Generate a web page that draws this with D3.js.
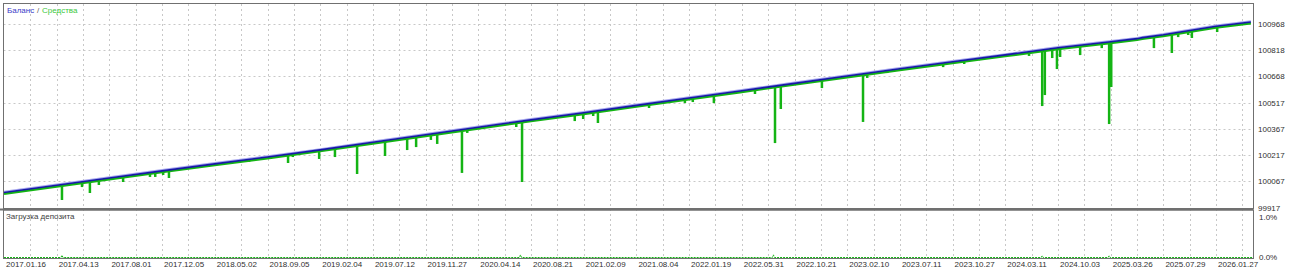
<!DOCTYPE html>
<html>
<head>
<meta charset="utf-8">
<script src="https://cdn.jsdelivr.net/npm/d3@7"></script>
<style>
  body { margin: 0; background: #fff; }
  svg text { font-family: "Liberation Sans", Arial, sans-serif; }
</style>
</head>
<body>
<div id="chart"></div>
<script>
// подписи оси X (по номеру сделки, каждые 10)
let dateLabels = ["2017.01.16", "2017.04.13", "2017.08.01", "2017.12.05", "2018.05.02", "2018.09.05",
    "2019.02.04", "2019.07.12", "2019.11.27", "2020.04.14", "2020.08.21", "2021.02.09",
    "2021.08.04", "2022.01.19", "2022.05.31", "2022.10.21", "2023.02.10", "2023.07.11",
    "2023.10.27", "2024.03.11", "2024.10.03", "2025.03.26", "2025.07.29", "2026.01.27"];
let yTicks = [99917, 100067, 100217, 100367, 100517, 100668, 100818, 100968];

// баланс
let balanceIdx = [0, 10, 20, 30, 40, 50, 60, 70, 80, 90, 100, 110, 120, 130, 140, 150, 160, 170, 180, 190, 200, 210, 215, 216, 220, 230, 236.6];
let balanceVal = [100003, 100044, 100086, 100127, 100167, 100206, 100247, 100291, 100334, 100377, 100419, 100460, 100502, 100544, 100586, 100628, 100670, 100712, 100752, 100791, 100832, 100866, 100884, 100890, 100906, 100955, 100979];

// провалы средств
let dipIdx = [11.0, 14.8, 16.3, 18.0, 22.6, 27.7, 28.7, 30.2, 31.3, 36.8, 46.5, 53.9, 54.8, 59.8, 62.8, 67.0,
    72.3, 76.5, 78.2, 81.0, 82.2, 86.9, 87.9, 97.2, 98.3, 108.3, 109.9, 111.8, 112.7, 122.4, 129.2, 130.7,
    134.7, 142.5, 146.3, 147.4, 155.2, 163.0, 163.8, 167.6, 178.2, 182.2, 194.5, 197.0, 197.5, 198.9, 199.8,
    200.4, 204.2, 208.3, 209.7, 210.1, 212.3, 218.2, 221.6, 222.8, 224.7, 225.4, 230.2];
let dipVal = [99960, 100034, 100000, 100046, 100063, 100092, 100092, 100103, 100086, 100143, 100178, 100172, 100206,
    100195, 100206, 100109, 100212, 100246, 100263, 100304, 100281, 100115, 100344, 100378, 100063, 100412, 100424,
    100441, 100401, 100487, 100515, 100521, 100515, 100567, 100286, 100481, 100601, 100407, 100659, 100687, 100721,
    100739, 100785, 100498, 100561, 100773, 100710, 100779, 100790, 100830, 100395, 100607, 100865, 100830, 100802,
    100893, 100905, 100888, 100922];

// загрузка депозита, %
let loadIdx = [11, 98, 146, 197, 209.7];
let loadVal = [0.05, 0.06, 0.06, 0.04, 0.04];

let width = 1290;
let height = 273;
let main = { top: 4, bottom: 208.5 };
let lower = { top: 210, bottom: 258.5 };
let left = 3.5, right = 1253.5;
let font = "'Liberation Sans', Arial, sans-serif";

function translate (x, y) {
    return `translate(${ x }, ${ y })`;
}

let svg = d3.select("#chart").append("svg")
    .attr("width", width)
    .attr("height", height);

let x = d3.scaleLinear().domain([0, 237]).range([4, 1253]);
let y = d3.scaleLinear().domain([99917, 100968]).range([207.5, 24]);
let yLoad = d3.scaleLinear().domain([0, 1]).range([257.5, 213.5]);

let gridColor = "#c8c8c8";

// вертикальная сетка через обе панели
let gridX = d3.range(5, 237, 5);
svg.append("g").selectAll("line").data(gridX).enter().append("line")
    .attr("x1", d => Math.round(x(d)) + 0.5)
    .attr("x2", d => Math.round(x(d)) + 0.5)
    .attr("y1", main.top)
    .attr("y2", lower.bottom)
    .attr("stroke", gridColor)
    .attr("stroke-dasharray", "2,3");

// горизонтальная сетка
svg.append("g").selectAll("line").data(yTicks.slice(1)).enter().append("line")
    .attr("x1", left)
    .attr("x2", right)
    .attr("y1", d => Math.round(y(d)) + 0.5)
    .attr("y2", d => Math.round(y(d)) + 0.5)
    .attr("stroke", gridColor)
    .attr("stroke-dasharray", "2,3");

// средства: базовая линия чуть ниже баланса
let equityLine = d3.line()
    .x((d, i) => x(balanceIdx[i]))
    .y(d => y(d - 7));
svg.append("path")
    .attr("d", equityLine(balanceVal))
    .attr("fill", "none")
    .attr("stroke", "#14b414")
    .attr("stroke-width", 2.5);

let balAt = d3.scaleLinear().domain(balanceIdx).range(balanceVal);
svg.append("g").selectAll("line").data(dipIdx).enter().append("line")
    .attr("x1", d => x(d))
    .attr("x2", d => x(d))
    .attr("y1", d => y(balAt(d)))
    .attr("y2", (d, i) => y(dipVal[i]))
    .attr("stroke", "#14b414")
    .attr("stroke-width", 2.5);

// баланс
let balanceLine = d3.line()
    .x((d, i) => x(balanceIdx[i]))
    .y(d => y(d));
svg.append("path")
    .attr("d", balanceLine(balanceVal))
    .attr("transform", translate(0, -1))
    .attr("fill", "none")
    .attr("stroke", "#a8a8f0")
    .attr("stroke-width", 1.5);
svg.append("path")
    .attr("d", balanceLine(balanceVal))
    .attr("fill", "none")
    .attr("stroke", "#1818a8")
    .attr("stroke-width", 1.6);

// загрузка депозита
let loadPts = [[0, 0]];
loadIdx.forEach((d, i) => { loadPts.push([d - 0.2, 0], [d, loadVal[i]], [d + 0.2, 0]); });
loadPts.push([237, 0]);
svg.append("path")
    .attr("d", d3.line().x(d => x(d[0])).y(d => yLoad(d[1]))(loadPts))
    .attr("fill", "none")
    .attr("stroke", "#14b414")
    .attr("stroke-width", 1)
    .attr("stroke-dasharray", "2,1");

// рамки панелей
svg.append("rect")
    .attr("x", left).attr("y", main.top - 0.5)
    .attr("width", right - left).attr("height", main.bottom - main.top + 0.5)
    .attr("fill", "none").attr("stroke", "#707070");
svg.append("line")
    .attr("x1", 0).attr("x2", right)
    .attr("y1", 209.5).attr("y2", 209.5)
    .attr("stroke", "#707070").attr("stroke-width", 2);
svg.append("rect")
    .attr("x", left).attr("y", lower.top)
    .attr("width", right - left).attr("height", lower.bottom - lower.top)
    .attr("fill", "none").attr("stroke", "#707070");

// ось Y справа
let yAxis = d3.axisRight(y).tickValues(yTicks).tickSize(0).tickPadding(0).tickFormat(d3.format("d"));
let gY = svg.append("g").attr("transform", translate(1258, 0)).call(yAxis);
gY.select(".domain").remove();
gY.selectAll("text").attr("font-size", "8px").attr("fill", "#303030")
    .attr("font-family", font);

let loadAxis = d3.axisRight(yLoad).tickValues([0, 1]).tickSize(0).tickPadding(0).tickFormat(d => d3.format(".1f")(d) + "%");
let gL = svg.append("g").attr("transform", translate(1259, 0)).call(loadAxis);
gL.select(".domain").remove();
gL.selectAll("text").attr("font-size", "8px").attr("fill", "#303030")
    .attr("font-family", font)
    .attr("dy", d => d === 1 ? "0.75em" : "0.2em");

// ось X снизу
let xAxis = d3.axisBottom(x).tickValues(d3.range(0, 240, 10)).tickSize(0).tickPadding(0)
    .tickFormat((d, i) => dateLabels[i]);
let gX = svg.append("g").attr("transform", translate(0, 261)).call(xAxis);
gX.select(".domain").remove();
gX.selectAll("text").attr("font-size", "8px").attr("fill", "#303030")
    .attr("text-anchor", "start").attr("dx", "1.5")
    .attr("font-family", font);

// легенды
svg.append("text").attr("x", 7).attr("y", 13).attr("font-size", "8px")
    .attr("fill", "#3a3ac8").text("Баланс");
svg.append("text").attr("x", 37).attr("y", 13).attr("font-size", "8px")
    .attr("fill", "#606060").text("/");
svg.append("text").attr("x", 42).attr("y", 13).attr("font-size", "8px")
    .attr("fill", "#3cc83c").text("Средства");

svg.append("text").attr("x", 6).attr("y", 219).attr("font-size", "8px")
    .attr("fill", "#404040").text("Загрузка депозита");
</script>
</body>
</html>
